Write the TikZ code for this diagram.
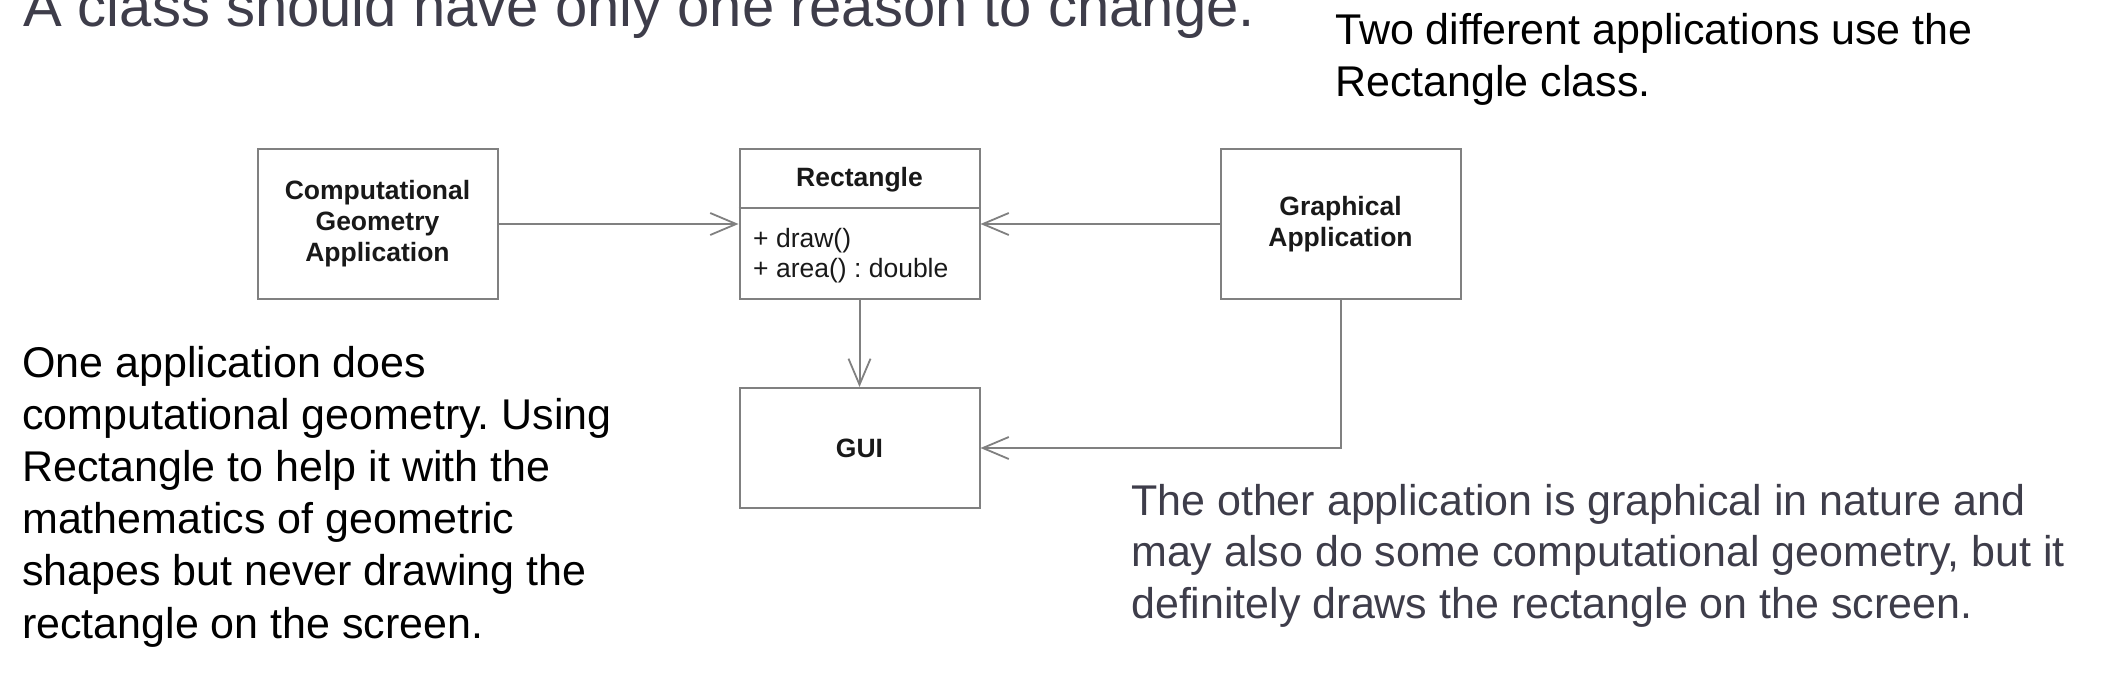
\documentclass[tikz,border=0pt]{standalone}
\usepackage{fontspec}
\setmainfont{Liberation Sans}
\usetikzlibrary{arrows.meta}
\definecolor{slate}{RGB}{62,61,74}
\definecolor{linegray}{RGB}{128,128,128}
\definecolor{labelink}{RGB}{25,25,25}
\tikzset{
  umlbox/.style={draw=linegray, line width=2pt, minimum width=240pt, minimum height=150pt,
    inner sep=0pt, align=center, text=labelink, font=\fontsize{26.5}{31}\selectfont\bfseries},
  dep/.style={draw=linegray, line width=2pt,
    -{Straight Barb[length=26pt, width=22pt, line width=1.8pt]}},
  prose/.style={anchor=base west, inner sep=0pt, font=\fontsize{43}{52}\selectfont},
  member/.style={anchor=base west, inner sep=0pt, text=labelink, font=\fontsize{26.5}{31}\selectfont}
}
\begin{document}
\frenchspacing
\begin{tikzpicture}[x=1pt, y=-1pt]
\useasboundingbox (0,0) rectangle (2108,696);
% title
\node[anchor=base west, inner sep=0pt, text=slate, font=\fontsize{58}{70}\selectfont] (title) at (23,27) {A class should have only one reason to change.};
% explanatory texts
\node[prose] (toptext) at (1335,44) {\vtop{\hbox{Two different applications use the}\hbox{Rectangle class.}}};
\node[prose] (lefttext) at (22,377) {\vtop{\baselineskip=52.2pt\hbox{One application does}\hbox{computational geometry. Using}\hbox{Rectangle to help it with the}\hbox{mathematics of geometric}\hbox{shapes but never drawing the}\hbox{rectangle on the screen.}}};
\node[prose, text=slate] (righttext) at (1131,515) {\vtop{\baselineskip=51.5pt\hbox{The other application is graphical in nature and}\hbox{may also do some computational geometry, but it}\hbox{definitely draws the rectangle on the screen.}}};
% boxes
\node[umlbox] (cga) at (377.5,224) {Computational\\Geometry\\Application};
\node[umlbox] (rect) at (859.5,224) {};
\draw[draw=linegray, line width=2pt] ([yshift=-60pt]rect.north west) -- ([yshift=-60pt]rect.north east);
\node[anchor=base, inner sep=0pt, text=labelink, font=\fontsize{26.5}{31}\selectfont\bfseries] (rname) at (859.5,186) {Rectangle};
\node[member] (m1) at (753,247) {+ draw()};
\node[member] (m2) at (753,277) {+ area() : double};
\node[umlbox] (gra) at (1340.5,224) {Graphical\\Application};
\node[umlbox, minimum height=120pt] (gui) at (859.5,448) {GUI};
% connectors
\draw[dep] (cga.east) -- (rect.west);
\draw[dep] (gra.west) -- (rect.east);
\draw[dep] (rect.south) -- (gui.north);
\draw[dep] (gra.south) |- (gui.east);
\end{tikzpicture}
\end{document}
